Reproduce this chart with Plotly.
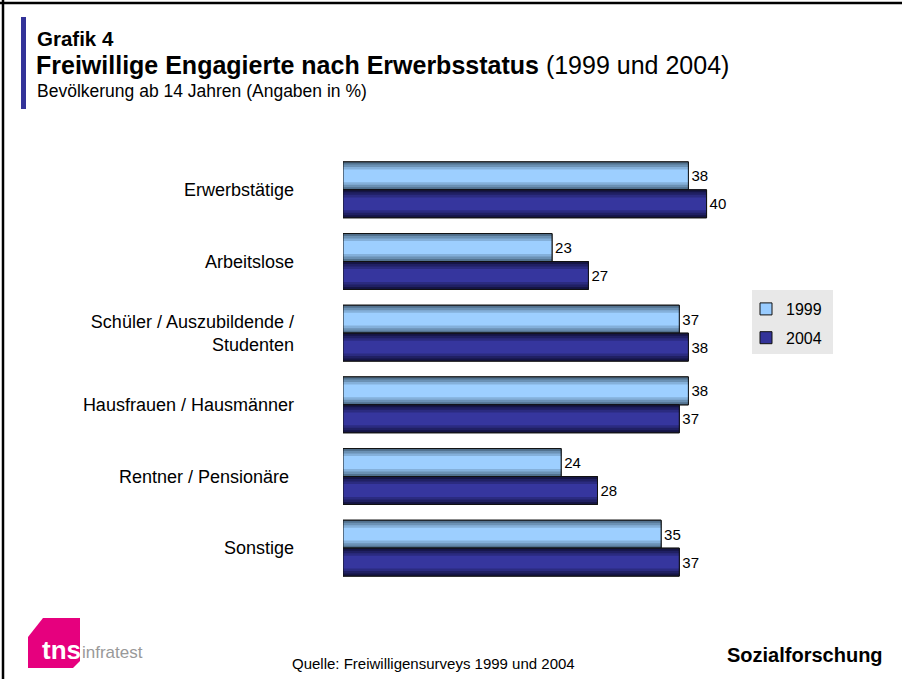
import plotly.graph_objects as go

# ---------------- data ----------------
categories = [
    "Erwerbstätige",
    "Arbeitslose",
    "Schüler / Auszubildende /<br>Studenten",
    "Hausfrauen / Hausmänner",
    "Rentner / Pensionäre\u00a0",
    "Sonstige",
]
series_names = ["1999", "2004"]
values_1999 = [38, 23, 37, 38, 24, 35]
values_2004 = [40, 27, 38, 37, 28, 37]

title_small = "Grafik 4"
title_bold = "Freiwillige Engagierte nach Erwerbsstatus"
title_rest = "(1999 und 2004)"
subtitle = "Bevölkerung ab 14 Jahren (Angaben in %)"
source_text = "Quelle: Freiwilligensurveys 1999 und 2004"
brand_text = "Sozialforschung"

# ---------------- layout geometry (pixels) ----------------
W_PX, H_PX = 902, 679
L, R, T, B = 343, 752, 154, 584
PW, PH = R - L, B - T


def px(x):
    return (x - L) / PW


def py(y):
    return (B - y) / PH


FONT = "Liberation Sans, Arial, Helvetica, sans-serif"

BAR_W = 0.39
styles = {
    "1999": dict(edge="#52728f", center="#9dcfff", main="#99ccff", offset=-BAR_W),
    "2004": dict(edge="#151545", center="#36369e", main="#333399", offset=0.0),
}


def mix(c1, c2, t):
    a = [int(c1[i:i + 2], 16) for i in (1, 3, 5)]
    b = [int(c2[i:i + 2], 16) for i in (1, 3, 5)]
    return "#" + "".join(f"{round(a[k] + (b[k] - a[k]) * t):02x}" for k in range(3))


fig = go.Figure()
layer_fracs = [1.0, 0.82, 0.64, 0.46]

for name, vals in zip(series_names, [values_1999, values_2004]):
    st = styles[name]
    n = len(categories)
    # legend-bearing base bar
    fig.add_trace(go.Bar(
        y=categories, x=vals, orientation="h", name=name,
        width=[BAR_W] * n, offset=st["offset"],
        marker=dict(color=st["main"], line=dict(color="#111111", width=1)),
        legendgroup=name, showlegend=True, hoverinfo="skip",
    ))
    # gradient layers
    for i, f in enumerate(layer_fracs):
        col = mix(st["edge"], st["center"], i / (len(layer_fracs) - 1))
        fig.add_trace(go.Bar(
            y=categories, x=vals, orientation="h", name=name,
            width=[BAR_W * f] * n, offset=st["offset"] + BAR_W * (1 - f) / 2,
            marker=dict(color=col, line=dict(width=0)),
            legendgroup=name, showlegend=False, hoverinfo="skip",
        ))
    # outline + value labels
    fig.add_trace(go.Bar(
        y=categories, x=vals, orientation="h", name=name,
        width=[BAR_W] * n, offset=st["offset"],
        marker=dict(color="rgba(0,0,0,0)", line=dict(color="#111111", width=1)),
        text=[str(v) for v in vals], textposition="outside",
        textfont=dict(family=FONT, size=15, color="#000000"),
        cliponaxis=False,
        legendgroup=name, showlegend=False, hoverinfo="skip",
    ))

shapes = []
# frame lines
shapes.append(dict(type="line", xref="paper", yref="paper",
                   x0=px(0), x1=px(W_PX), y0=py(3), y1=py(3),
                   line=dict(color="#000000", width=2.5)))
shapes.append(dict(type="line", xref="paper", yref="paper",
                   x0=px(3), x1=px(3), y0=py(0), y1=py(H_PX),
                   line=dict(color="#000000", width=2.5)))
# accent bar
shapes.append(dict(type="rect", xref="paper", yref="paper",
                   x0=px(21), x1=px(26), y0=py(17), y1=py(109),
                   fillcolor="#333399", line=dict(width=0)))
# legend background
shapes.append(dict(type="rect", xref="paper", yref="paper",
                   x0=px(752), x1=px(833), y0=py(290), y1=py(354),
                   fillcolor="#e8e8e8", line=dict(width=0), layer="below"))
# tns logo shape
logo_pts = [(28, 637), (43, 618), (80, 618), (80, 661), (73, 668), (28, 668)]
path = "M " + " L ".join(f"{px(x)},{py(y)}" for x, y in logo_pts) + " Z"
shapes.append(dict(type="path", xref="paper", yref="paper", path=path,
                   fillcolor="#e6007e", line=dict(width=0)))

annotations = [
    dict(text=f"<b>{title_small}</b>", x=px(35), y=py(39), xanchor="left", yanchor="middle",
         font=dict(family=FONT, size=20.5, color="#000000")),
    dict(text=f"<b>{title_bold}</b> {title_rest}", x=px(34), y=py(65), xanchor="left", yanchor="middle",
         font=dict(family=FONT, size=25, color="#000000")),
    dict(text=subtitle, x=px(35), y=py(91), xanchor="left", yanchor="middle",
         font=dict(family=FONT, size=17.5, color="#000000")),
    dict(text=source_text, x=px(290), y=py(663), xanchor="left", yanchor="middle",
         font=dict(family=FONT, size=15, color="#000000")),
    dict(text=f"<b>{brand_text}</b>", x=px(885), y=py(655), xanchor="right", yanchor="middle",
         font=dict(family=FONT, size=20, color="#000000")),
    dict(text="<b>tns</b>", x=px(61), y=py(650), xanchor="center", yanchor="middle",
         font=dict(family=FONT, size=26, color="#ffffff")),
    dict(text="infratest", x=px(80), y=py(652), xanchor="left", yanchor="middle",
         font=dict(family="Liberation Sans Narrow, " + FONT, size=17, color="#999999")),
]
for a in annotations:
    a.update(xref="paper", yref="paper", showarrow=False)

fig.update_layout(
    width=W_PX, height=H_PX,
    margin=dict(l=L, r=W_PX - R, t=T, b=H_PX - B, pad=0),
    paper_bgcolor="#ffffff", plot_bgcolor="#ffffff",
    barmode="overlay",
    showlegend=True,
    legend=dict(x=px(746), y=py(292), xanchor="left", yanchor="top",
                bgcolor="rgba(0,0,0,0)", borderwidth=0,
                font=dict(family=FONT, size=16, color="#000000"),
                traceorder="grouped", tracegroupgap=5, itemwidth=30),
    shapes=shapes,
    annotations=annotations,
    font=dict(family=FONT),
)
fig.update_xaxes(range=[0, 45], showticklabels=False, showgrid=False, zeroline=False,
                 showline=False, ticks="")
fig.update_yaxes(type="category", range=[5.5, -0.5], showgrid=False, zeroline=False,
                 showline=False, ticks="", ticklabelstandoff=48,
                 tickfont=dict(family=FONT, size=18, color="#000000"))

fig.write_html("out.html",
               config={"displayModeBar": False, "staticPlot": True},
               post_script="document.body.style.margin='0';document.body.style.padding='0';")
